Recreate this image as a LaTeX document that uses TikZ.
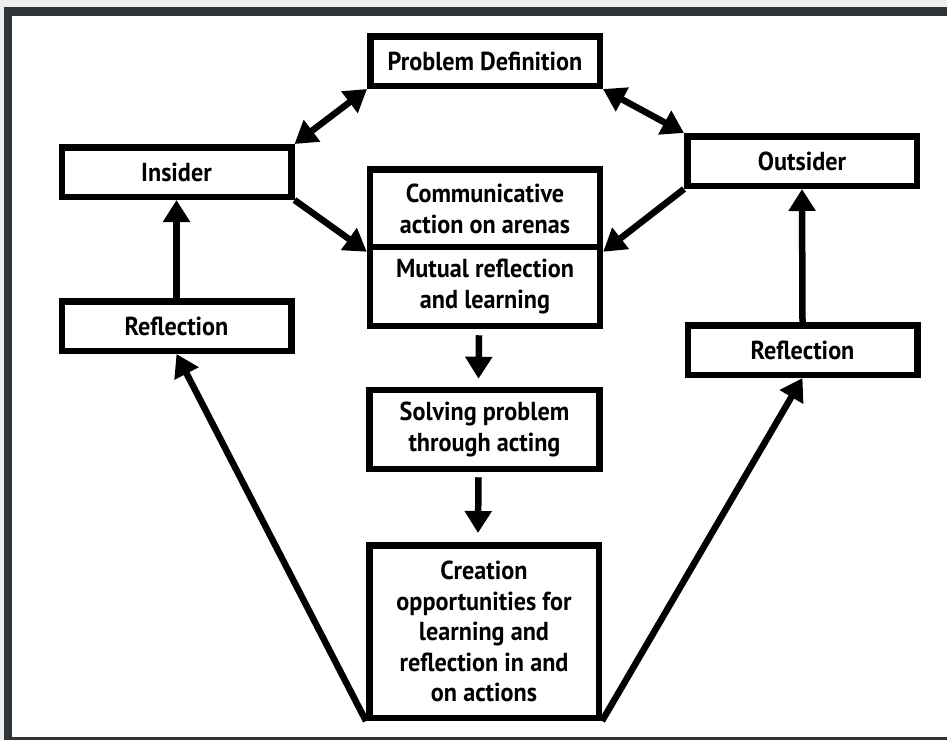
\documentclass[tikz,border=0pt]{standalone}
\usepackage{fontspec}
\setmainfont{PT Sans}[FakeStretch=0.93]
\usetikzlibrary{arrows.meta}
\definecolor{framegray}{HTML}{2F3439}
\definecolor{edgegray}{HTML}{EEEEEE}
\begin{document}
\begin{tikzpicture}[x=1pt,y=-1pt,
  box/.style={draw=black, line width=6.5pt, fill=white, align=center,
    font=\fontsize{26}{30.5}\selectfont\bfseries, inner sep=0pt},
  wide/.style={box, minimum width=229.5pt, minimum height=49.5pt},
  tall/.style={box, minimum width=230pt, minimum height=79pt},
  link/.style={line width=6.5pt, -{Triangle[length=22pt,width=26pt]}},
  twoway/.style={line width=6.5pt, {Triangle[length=22pt,width=26pt]}-{Triangle[length=22pt,width=26pt]}}
]
% page and frame
\useasboundingbox (0,0) rectangle (947,740);
\fill[edgegray] (0,0) rectangle (947,740);
\fill[white] (4,7) rectangle (947,740);
\fill[framegray] (4,7) rectangle (947,16);
\fill[framegray] (4,7) rectangle (12,740);
\fill[framegray] (4,737) rectangle (947,740);

% boxes
\node[wide] (pd)  at (485,61)    {Problem Definition};
\node[wide] (ins) at (176.5,172) {Insider};
\node[wide] (out) at (802,161)   {Outsider};
\node[tall] (com) at (485,209)   {Communicative\\action on arenas};
\node[tall] (mut) at (485,286.5) {Mutual reflection\\and learning};
\node[wide] (rl)  at (176.5,326) {Reflection};
\node[wide] (rr)  at (802.5,350) {Reflection};
\node[tall] (sol) at (484.5,429.5){Solving problem\\through acting};
\node[box, minimum width=229.5pt, minimum height=172.5pt] (cre) at (484,631.5)
  {Creation\\opportunities for\\learning and\\reflection in and\\on actions};

% connectors
\draw[twoway] (ins.north east) -- (pd.south west);
\draw[twoway] (pd.south east) -- (out.north west);
\draw[link] (ins.south east) -- (com.south west);
\draw[link] (out.south west) -- (com.south east);
\draw[link] (rl.north) -- (ins.south);
\draw[link] (rr.north) -- (out.south);
\draw[link] ([xshift=-6pt,yshift=-6pt]mut.south) -- ([xshift=-6pt,yshift=8pt]sol.north);
\draw[link] ([xshift=-6pt,yshift=-5pt]sol.south) -- ([xshift=-6pt,yshift=9pt]cre.north);
\draw[link] (cre.south west) -- (rl.south);
\draw[link] (cre.south east) -- (rr.south);
\end{tikzpicture}
\end{document}
